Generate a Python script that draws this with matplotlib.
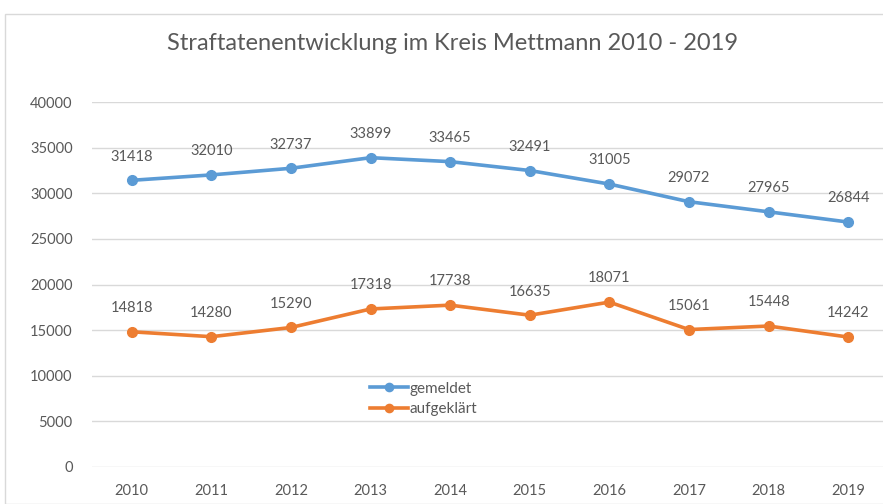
import matplotlib.pyplot as plt
from matplotlib.patches import Rectangle

years = ['2010', '2011', '2012', '2013', '2014', '2015', '2016', '2017', '2018', '2019']
gemeldet = [31418, 32010, 32737, 33899, 33465, 32491, 31005, 29072, 27965, 26844]
aufgeklaert = [14818, 14280, 15290, 17318, 17738, 16635, 18071, 15061, 15448, 14242]

plt.rcParams['font.family'] = ['Lato', 'DejaVu Sans']
text_col = '#595959'

fig = plt.figure(figsize=(8.83, 5.04), dpi=100)
fig.patches.append(Rectangle((5 / 883, 0), 1, 1 - 14 / 504, transform=fig.transFigure,
                             fill=False, edgecolor='#d9d9d9', lw=1))
ax = fig.add_axes([92 / 883, 1 - 467 / 504, 796 / 883, 365 / 504])

x = list(range(len(years)))
ax.plot(x, gemeldet, color='#5b9bd5', lw=2.6, marker='o', ms=7, label='gemeldet')
ax.plot(x, aufgeklaert, color='#ed7d31', lw=2.6, marker='o', ms=7, label='aufgeklärt')

for i in x:
    ax.annotate(str(gemeldet[i]), (i, gemeldet[i]), xytext=(0, 12), textcoords='offset points',
                ha='center', va='bottom', fontsize=10.5, color=text_col)
    ax.annotate(str(aufgeklaert[i]), (i, aufgeklaert[i]), xytext=(0, 12), textcoords='offset points',
                ha='center', va='bottom', fontsize=10.5, color=text_col)

ax.set_xlim(-0.5, 9.5)
ax.set_ylim(0, 40000)
ax.set_yticks(range(0, 40001, 5000))
ax.set_xticks(x)
ax.set_xticklabels(years)
ax.grid(axis='y', color='#d9d9d9', lw=1)
ax.set_axisbelow(True)
for s in ax.spines.values():
    s.set_visible(False)
ax.tick_params(length=0, labelsize=10.5, colors=text_col, pad=12)
ax.tick_params(axis='y', pad=14)

ax.legend(loc='upper left', bbox_to_anchor=(0.34, 0.255), frameon=False, fontsize=11,
          labelcolor=text_col, handlelength=2.5, handletextpad=0.05, borderpad=0,
          labelspacing=0.45, markerscale=0.85)

fig.text(453 / 883, 1 - 44 / 504, 'Straftatenentwicklung im Kreis Mettmann 2010 - 2019',
         ha='center', va='center', fontsize=17, color=text_col)

fig.savefig('out.png', dpi=100)
